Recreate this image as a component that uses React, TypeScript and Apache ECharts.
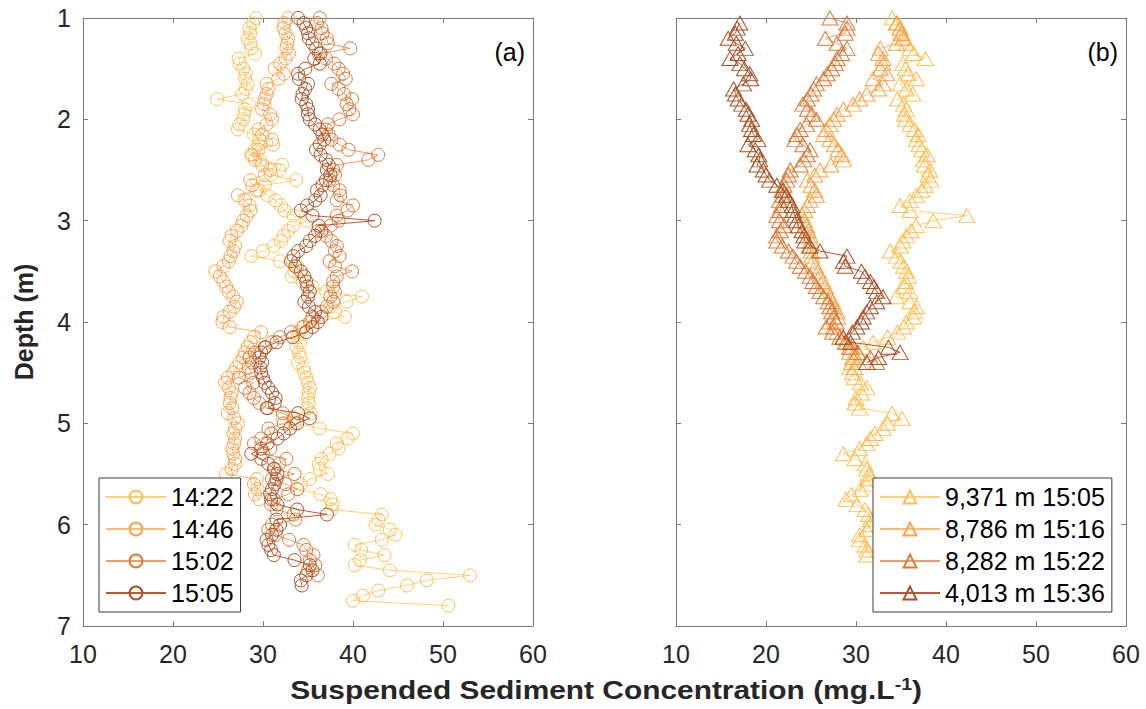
import { useEffect, useRef } from 'react';
import * as echarts from 'echarts';

// Depth grid (m)
const DEPTH = [
  1.00, 1.05, 1.10, 1.15, 1.20, 1.25, 1.30, 1.35, 1.40, 1.45,
  1.50, 1.55, 1.60, 1.65, 1.70, 1.75, 1.80, 1.85, 1.90, 1.95,
  2.00, 2.05, 2.10, 2.15, 2.20, 2.25, 2.30, 2.35, 2.40, 2.45,
  2.50, 2.55, 2.60, 2.65, 2.70, 2.75, 2.80, 2.85, 2.90, 2.95,
  3.00, 3.05, 3.10, 3.15, 3.20, 3.25, 3.30, 3.35, 3.40, 3.45,
  3.50, 3.55, 3.60, 3.65, 3.70, 3.75, 3.80, 3.85, 3.90, 3.95,
  4.00, 4.05, 4.10, 4.15, 4.20, 4.25, 4.30, 4.35, 4.40, 4.45,
  4.50, 4.55, 4.60, 4.65, 4.70, 4.75, 4.80, 4.85, 4.90, 4.95,
  5.00, 5.05, 5.10, 5.15, 5.20, 5.25, 5.30, 5.35, 5.40, 5.45,
  5.50, 5.55, 5.60, 5.65, 5.70, 5.75, 5.80, 5.85, 5.90, 5.95,
  6.00, 6.05, 6.10, 6.15, 6.20, 6.25, 6.30, 6.35, 6.40, 6.45,
  6.50, 6.55, 6.60, 6.65, 6.70, 6.75, 6.80,
];

// Panel (a) – SSC (mg/L), starting depth 1.00 m
const SSC_1422 = [
  29.2, 28.9, 28.5, 28.6, 28.3, 28.6, 28.7, 29.1, 27.3, 27.4,
  27.8, 28.1, 28.0, 28.3, 28.1, 27.7, 24.9, 28.4, 28.0, 27.9,
  27.8, 27.4, 27.2, 29.0, 29.6, 29.5, 29.1, 28.9, 29.7, 32.1,
  31.8, 30.9, 33.7, 30.2, 29.6, 30.5, 31.4, 32.0, 32.4, 33.4,
  34.9, 33.4, 32.8, 32.3, 32.0, 31.2, 30.0, 28.7, 31.9, 33.8,
  33.5, 33.2, 34.4, 35.5, 37.0, 41.0, 39.3, 37.5, 38.0, 39.1,
  35.3, 34.3, 34.0, 33.8, 34.1, 33.7, 34.0, 34.2, 33.9, 34.5,
  34.6, 34.8, 35.0, 35.2, 35.1, 35.0, 35.1, 34.9, 35.3, 32.2,
  33.5, 36.3, 40.0, 39.4, 38.2, 38.4, 37.4, 36.5, 36.2, 36.3,
  37.2, 35.2, 34.2, 33.8, 36.4, 37.5, 37.7, 37.6, 43.2, 42.8,
  42.5, 44.1, 44.7, 43.2, 40.2, 40.9, 43.5, 40.8, 40.2, 44.1,
  53.0, 48.2, 46.0, 42.8, 41.1, 40.0, 50.6,
];
const SSC_1446 = [
  32.8, 32.4, 32.3, 32.5, 32.8, 32.7, 32.6, 32.9, 32.5, 31.9,
  31.3, 32.3, 31.7, 30.4, 30.6, 30.4, 30.2, 30.1, 29.9, 30.8,
  31.0, 30.4, 29.5, 29.9, 31.0, 31.1, 29.5, 28.7, 29.1, 29.9,
  30.8, 30.2, 28.6, 28.8, 29.3, 27.2, 28.0, 28.5, 28.6, 28.2,
  27.8, 27.6, 27.1, 26.5, 26.3, 26.9, 26.7, 26.4, 26.2, 25.6,
  24.7, 25.2, 25.6, 25.9, 26.2, 26.7, 27.1, 26.8, 26.3, 25.6,
  25.5, 26.3, 29.8, 29.0, 28.6, 28.3, 28.0, 27.8, 27.4, 27.0,
  26.7, 26.1, 25.8, 26.2, 26.5, 26.4, 26.3, 26.6, 26.1, 26.8,
  27.2, 26.9, 26.7, 26.9, 26.8, 26.6, 26.7, 26.9, 26.9, 26.5,
  25.9, 29.3, 29.0, 29.4, 29.1, 29.6,
];
const SSC_1502 = [
  36.3, 36.0, 36.5, 36.6, 37.1, 37.2, 39.7, 36.2, 37.0, 37.9,
  38.4, 38.9, 39.2, 37.6, 38.4, 39.0, 39.9, 39.3, 39.6, 40.0,
  38.5, 37.2, 37.0, 37.3, 37.6, 38.5, 39.5, 42.8, 41.7, 38.2,
  37.8, 38.0, 37.4, 37.8, 38.5, 38.6, 38.2, 40.0, 39.4, 38.2,
  38.4, 37.5, 36.1, 37.0, 37.6, 38.2, 38.0, 38.5, 37.4, 38.0,
  39.9, 38.2, 37.8, 37.8, 38.0, 37.5, 37.8, 37.1, 36.5, 35.5,
  35.2, 34.5, 33.1, 31.9, 31.0, 30.3, 29.1, 28.5, 28.8, 28.4,
  28.7, 27.3, 28.9, 28.0, 28.5, 29.0, 29.6, 30.4, 32.2, 33.4,
  32.3, 30.6, 30.9, 29.8, 29.0, 30.8, 30.0, 32.6, 31.8, 31.3,
  33.5, 31.0, 32.5, 33.8, 32.8, 31.2, 30.9, 31.5, 33.4, 33.6,
  31.0, 30.6, 31.4, 32.9, 34.5, 34.8, 35.6, 35.2, 35.8, 35.0,
  36.1,
];
const SSC_1505 = [
  33.9, 34.5, 34.8, 35.0, 35.1, 35.5, 35.9, 36.4, 35.7, 36.3,
  34.7, 33.9, 34.0, 35.0, 34.7, 34.4, 34.3, 34.8, 35.0, 35.0,
  35.2, 35.8, 36.3, 36.6, 36.8, 36.3, 35.9, 36.4, 37.0, 37.3,
  37.1, 37.5, 37.0, 36.6, 36.0, 36.4, 35.8, 34.9, 34.2, 35.5,
  42.4, 36.2, 36.5, 35.8, 35.2, 34.8, 33.9, 33.4, 33.1, 33.6,
  34.2, 34.6, 34.8, 34.9, 35.2, 35.0, 34.6, 35.1, 35.8, 36.5,
  36.1, 35.5, 34.8, 33.3, 31.5, 30.2, 29.8, 29.6, 29.9, 29.7,
  29.8, 30.0, 30.2, 30.6, 31.0, 31.4, 31.3, 30.5, 33.9, 35.2,
  33.8, 33.0, 32.3, 31.6, 30.5, 29.8, 28.7, 29.8, 30.6, 31.2,
  31.6, 31.5, 31.3, 31.0, 30.8, 30.9, 31.6, 33.8, 37.1, 31.5,
  31.9, 31.5, 31.0, 30.4, 30.6, 30.9, 31.2, 33.5, 35.2, 35.5,
  34.8, 34.2, 34.3,
];

// Panel (b)
const SSC_9371 = [ // from 1.00 m
  34.0, 34.6, 34.9, 35.0, 35.3, 35.6, 36.0, 36.4, 37.7, 35.2,
  35.5, 35.8, 36.7, 34.9, 35.6, 36.3, 34.6, 35.3, 35.6, 35.4,
  35.5, 36.0, 36.5, 36.9, 36.7, 37.0, 37.3, 37.9, 37.5, 37.6,
  38.2, 38.0, 38.3, 37.7, 37.3, 36.7, 36.0, 34.9, 36.0, 42.3,
  38.6, 36.7, 36.1, 35.6, 35.2, 34.9, 33.8, 34.5, 35.0, 35.3,
  35.6, 35.8, 35.5, 35.4, 36.0, 34.5, 36.0, 36.7, 36.5, 36.4,
  35.6, 35.3, 34.6, 33.5, 31.9, 30.8, 30.2, 29.8, 29.5, 29.3,
  29.6, 29.8, 30.5, 31.2, 30.6, 30.0, 29.9, 30.4, 34.0, 35.1,
  33.5, 33.0, 32.1, 31.6, 31.2, 30.4, 28.6, 29.9, 31.0, 31.2,
  31.4, 31.3, 31.2, 30.5, 29.5, 28.9, 30.1, 31.0, 31.4, 31.6,
  31.6, 31.2, 30.4, 30.4, 31.0, 31.2, 31.2,
];
const SSC_8786 = [ // from 1.05 m
  34.5, 34.9, 35.1, 35.2, 34.5, 32.7, 32.5, 33.0, 33.0, 32.7,
  33.4, 31.9, 33.0, 32.5, 31.2, 30.4, 29.7, 28.6, 27.9, 27.5,
  27.1, 26.7, 26.4, 27.1, 27.6, 28.0, 28.4, 28.6, 27.2, 26.0,
  25.4, 24.6, 25.0, 25.4, 25.6, 24.9, 24.6, 24.3, 24.0, 24.3,
  24.5, 24.7, 24.9, 25.0, 24.8, 25.0, 25.1, 25.2, 25.5, 25.8,
  26.0, 26.3, 26.6, 26.8, 27.1, 27.4, 27.6, 27.9, 28.0, 27.1,
  27.5, 27.9, 28.5, 29.0, 29.5, 29.3, 29.6, 30.3, 29.8,
];
const SSC_8282 = [ // from 1.00 m
  27.1, 29.0, 29.0, 28.8, 26.6, 27.9, 29.0, 28.4, 27.9, 27.7,
  27.3, 26.8, 26.4, 25.6, 25.3, 25.0, 24.6, 24.1, 24.6, 25.1,
  25.6, 24.5, 23.8, 23.4, 23.2, 24.1, 24.9, 24.6, 24.2, 23.8,
  22.7, 22.5, 22.3, 22.0, 21.8, 21.9, 21.5, 21.7, 21.6, 21.2,
  21.5, 22.0, 21.6, 21.2, 21.2, 21.8, 22.5, 23.0, 23.4, 23.8,
  24.4, 24.9, 25.2, 25.6, 26.0, 26.4, 26.9, 27.1, 27.3, 27.5,
  27.8, 26.7, 27.4, 28.2, 28.8, 29.3, 30.2, 31.6, 32.3,
];
const SSC_4013 = [ // from 1.05 m
  17.1, 16.8, 16.6, 15.8, 16.7, 17.7, 16.9, 16.0, 17.1, 17.6,
  18.2, 18.3, 17.5, 16.4, 16.6, 16.9, 17.3, 17.8, 18.0, 18.4,
  18.2, 18.4, 18.6, 19.1, 18.0, 18.8, 19.2, 19.3, 19.0, 19.7,
  20.0, 20.4, 21.2, 21.9, 22.3, 22.5, 22.9, 23.0, 23.2, 23.4,
  23.6, 24.0, 24.2, 24.3, 24.9, 26.0, 29.0, 28.6, 28.8, 30.6,
  31.0, 31.6, 32.0, 32.3, 33.0, 32.3, 31.6, 31.2, 30.8, 30.6,
  30.1, 29.6, 28.6, 29.4, 33.6, 34.9, 32.5, 31.2,
];

const LEFT_NAMES = ['14:22', '14:46', '15:02', '15:05'];
const RIGHT_NAMES = ['9,371 m 15:05', '8,786 m 15:16', '8,282 m 15:22', '4,013 m 15:36'];
const LEFT_DATA = [SSC_1422, SSC_1446, SSC_1502, SSC_1505];
const LEFT_START = [1.0, 1.0, 1.0, 1.0];
const RIGHT_DATA = [SSC_9371, SSC_8786, SSC_8282, SSC_4013];
const RIGHT_START = [1.0, 1.05, 1.0, 1.05];

const MARKER_COLORS = ['#FDBF52', '#FBA347', '#DC7A36', '#A85226'];
const LINE_COLORS = ['#FFCC6A', '#FFB264', '#E8945C', '#B5461C'];

const FONT = "'Liberation Sans', Arial, Helvetica, sans-serif";
const AXIS_COLOR = '#7a7a7a';
const TEXT_COLOR = '#262626';

function pairs(values: number[], start: number) {
  const offset = DEPTH.indexOf(start);
  return values.map((v, i) => [v, DEPTH[offset + i]]);
}

function xAxis(grid: number, position: string, labels: boolean) {
  return {
    type: 'value', gridIndex: grid, position, min: 10, max: 60, interval: 10,
    axisLine: { show: true, onZero: false, lineStyle: { color: AXIS_COLOR, width: 1 } },
    axisTick: { show: true, inside: true, length: 5, lineStyle: { color: AXIS_COLOR } },
    axisLabel: { show: labels, fontSize: 25, color: TEXT_COLOR, fontFamily: FONT, margin: 15 },
    splitLine: { show: false },
  };
}

function yAxis(grid: number, position: string, labels: boolean, name?: string) {
  return {
    type: 'value', gridIndex: grid, position, min: 1, max: 7, interval: 1, inverse: true,
    name: name || '', nameLocation: 'middle', nameGap: 47,
    nameTextStyle: { fontSize: 25, fontWeight: 'bold', color: TEXT_COLOR, fontFamily: FONT },
    axisLine: { show: true, onZero: false, lineStyle: { color: AXIS_COLOR, width: 1 } },
    axisTick: { show: true, inside: true, length: 5, lineStyle: { color: AXIS_COLOR } },
    axisLabel: { show: labels, fontSize: 25, color: TEXT_COLOR, fontFamily: FONT, margin: 12 },
    splitLine: { show: false },
  };
}

function makeSeries(name: string, values: number[], start: number, axis: number, idx: number, symbol: string, size: any) {
  return {
    name, type: 'line', xAxisIndex: axis, yAxisIndex: axis,
    data: pairs(values, start),
    symbol, symbolSize: size, showSymbol: true, clip: false, silent: true,
    itemStyle: { color: 'rgba(255,255,255,0)', borderColor: MARKER_COLORS[idx], borderWidth: 1 },
    lineStyle: { color: LINE_COLORS[idx], width: 1, opacity: 0.9 },
    emphasis: { disabled: true },
    z: 2 + idx,
  };
}

function legend(names: string[], left: number) {
  return {
    data: names, orient: 'vertical', left, top: 478,
    itemWidth: 60, itemHeight: 16, itemGap: 4,
    padding: [5, 7, 5, 6],
    borderColor: '#3a3a3a', borderWidth: 1, backgroundColor: '#ffffff',
    selectedMode: false,
    textStyle: { fontSize: 25, lineHeight: 28, color: '#000', fontFamily: FONT },
    z: 10,
  };
}

export default function App() {
  const ref = useRef<HTMLDivElement>(null);
  useEffect(() => {
    document.body.style.margin = '0';
    if (!ref.current) return;
    const chart = echarts.init(ref.current, null, { renderer: 'svg' });
    const series: any[] = [];
    LEFT_NAMES.forEach((n, i) => series.push(makeSeries(n, LEFT_DATA[i], LEFT_START[i], 0, i, 'circle', 13)));
    RIGHT_NAMES.forEach((n, i) => series.push(makeSeries(n, RIGHT_DATA[i], RIGHT_START[i], 1, i, 'triangle', [16, 14])));
    chart.setOption({
      animation: false,
      backgroundColor: '#ffffff',
      grid: [
        { left: 83, top: 18, width: 450, height: 608 },
        { left: 676, top: 18, width: 450, height: 608 },
      ],
      xAxis: [xAxis(0, 'bottom', true), xAxis(1, 'bottom', true), xAxis(0, 'top', false), xAxis(1, 'top', false)],
      yAxis: [yAxis(0, 'left', true, 'Depth (m)'), yAxis(1, 'left', false), yAxis(0, 'right', false), yAxis(1, 'right', false)],
      legend: [legend(LEFT_NAMES, 99), legend(RIGHT_NAMES, 873)],
      series,
      graphic: [
        { type: 'text', x: 525, y: 52, style: { text: '(a)', fontSize: 25, fontFamily: FONT, fill: '#000', align: 'right', verticalAlign: 'middle' } },
        { type: 'text', x: 1118, y: 52, style: { text: '(b)', fontSize: 25, fontFamily: FONT, fill: '#000', align: 'right', verticalAlign: 'middle' } },
        {
          type: 'text', x: 606, y: 690, scaleX: 1.15,
          style: {
            text: '{a|Suspended Sediment Concentration (mg.L}{s|-1}{a|)}',
            align: 'center', verticalAlign: 'middle', fill: TEXT_COLOR,
            rich: {
              a: { fontSize: 26, fontWeight: 'bold', fontFamily: FONT, fill: TEXT_COLOR, lineHeight: 30 },
              s: { fontSize: 17, fontWeight: 'bold', fontFamily: FONT, fill: TEXT_COLOR, verticalAlign: 'top', lineHeight: 14 },
            },
          },
        },
      ],
    });
    return () => chart.dispose();
  }, []);
  return <div ref={ref} style={{ width: 1146, height: 709 }} />;
}
